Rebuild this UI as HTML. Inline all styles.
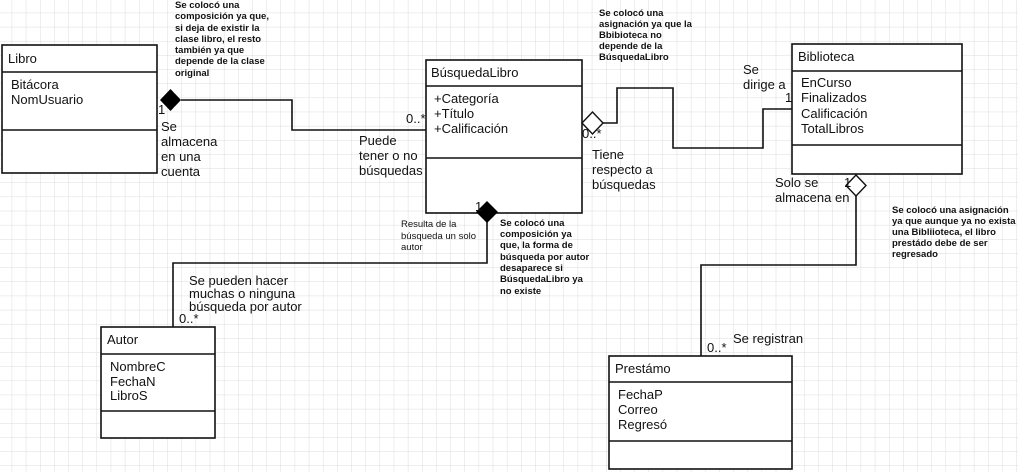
<!DOCTYPE html>
<html><head><meta charset="utf-8"><style>
html,body{margin:0;padding:0;background:#fff}
svg{display:block}
text{font-family:"Liberation Sans",Arial,sans-serif;fill:#111}
.n{font-size:13px}
.b{font-size:9.5px;font-weight:bold}
.s{font-size:9.5px}
</style></head><body>
<svg width="1018" height="472" viewBox="0 0 1018 472" xmlns="http://www.w3.org/2000/svg">
<defs><pattern id="g" width="14.15" height="14.15" patternUnits="userSpaceOnUse" x="-2" y="-1">
<path d="M14.15 0V14.15H0" fill="none" stroke="#dcdcdc" stroke-width="1"/></pattern></defs>
<rect width="1018" height="472" fill="url(#g)"/>
<g fill="#fff" stroke="#111" stroke-width="1.6">
<rect x="2" y="45" width="155" height="128"/><path d="M2 72H157M2 130H157"/>
<rect x="426" y="60" width="156" height="153"/><path d="M426 86H582M426 158H582"/>
<rect x="792" y="44" width="170" height="130"/><path d="M792 71H962M792 145H962"/>
<rect x="101" y="327" width="114" height="111"/><path d="M101 354H215M101 411H215"/>
<rect x="609" y="356" width="183" height="113"/><path d="M609 382H792M609 441H792"/>
</g>
<g fill="none" stroke="#111" stroke-width="1.6">
<path d="M181 100H292V130H426"/>
<path d="M603 123H617V88H673V148H763V109H792"/>
<path d="M487 222V263H173V327"/>
<path d="M856 196V265H701V356"/>
</g>
<path d="M160 100L170.5 89L181 100L170.5 111Z" fill="#000"/>
<path d="M582 123L592.5 112L603 123L592.5 134Z" fill="#fff" stroke="#111" stroke-width="1.4"/>
<path d="M487 201L498 212L487 223L476 212Z" fill="#000"/>
<path d="M856 175L866 185.5L856 196L846 185.5Z" fill="#fff" stroke="#111" stroke-width="1.4"/>
<text class="n" x="8" y="63">Libro</text>
<text class="n" x="11" y="89">Bitácora</text><text class="n" x="11" y="104">NomUsuario</text>
<text class="n" x="431" y="77">BúsquedaLibro</text>
<text class="n" x="434" y="103">+Categoría</text><text class="n" x="434" y="118">+Título</text><text class="n" x="434" y="133">+Calificación</text>
<text class="n" x="798" y="61">Biblioteca</text>
<text class="n" x="801" y="87">EnCurso</text><text class="n" x="801" y="102">Finalizados</text><text class="n" x="801" y="118">Calificación</text><text class="n" x="801" y="133">TotalLibros</text>
<text class="n" x="107" y="344">Autor</text>
<text class="n" x="110" y="371">NombreC</text><text class="n" x="110" y="386">FechaN</text><text class="n" x="110" y="400">LibroS</text>
<text class="n" x="615" y="373">Prestámo</text>
<text class="n" x="618" y="399">FechaP</text><text class="n" x="618" y="414">Correo</text><text class="n" x="618" y="429">Regresó</text>
<text class="n" x="158" y="114">1</text>
<text class="n" x="161" y="131">Se</text><text class="n" x="161" y="146">almacena</text><text class="n" x="161" y="161">en una</text><text class="n" x="161" y="176">cuenta</text>
<text class="n" x="406" y="123">0..*</text>
<text class="n" x="359" y="145">Puede</text><text class="n" x="359" y="160">tener o no</text><text class="n" x="359" y="175">búsquedas</text>
<text class="n" x="582" y="138">0..*</text>
<text class="n" x="592" y="159">Tiene</text><text class="n" x="592" y="174">respecto a</text><text class="n" x="592" y="189">búsquedas</text>
<text class="n" x="743" y="74">Se</text><text class="n" x="743" y="89">dirige a</text>
<text class="n" x="785" y="102">1</text>
<text class="n" x="775" y="187">Solo se</text><text class="n" x="775" y="202">almacena en</text>
<text class="n" x="844" y="187">1</text>
<text class="n" x="475" y="211">1</text>
<text class="n" x="179" y="323">0..*</text>
<text class="n" x="189" y="285">Se pueden hacer</text><text class="n" x="189" y="298">muchas o ninguna</text><text class="n" x="189" y="311">búsqueda por autor</text>
<text class="n" x="707" y="352">0..*</text>
<text class="n" x="733" y="343">Se registran</text>
<text class="s" x="401" y="227">Resulta de la</text><text class="s" x="401" y="239">búsqueda un solo</text><text class="s" x="401" y="250">autor</text>
<text class="b" x="175" y="8">Se colocó una</text><text class="b" x="175" y="19">composición ya que,</text><text class="b" x="175" y="31">si deja de existir la</text><text class="b" x="175" y="42">clase libro, el resto</text><text class="b" x="175" y="53">también ya que</text><text class="b" x="175" y="64">depende de la clase</text><text class="b" x="175" y="76">original</text>
<text class="b" x="599" y="16">Se colocó una</text><text class="b" x="599" y="27">asignación ya que la</text><text class="b" x="599" y="38">Bbibioteca no</text><text class="b" x="599" y="49">depende de la</text><text class="b" x="599" y="60">BúsquedaLibro</text>
<text class="b" x="500" y="226">Se colocó una</text><text class="b" x="500" y="237">composición ya</text><text class="b" x="500" y="248">que, la forma de</text><text class="b" x="500" y="260">búsqueda por autor</text><text class="b" x="500" y="271">desaparece si</text><text class="b" x="500" y="282">BúsquedaLibro ya</text><text class="b" x="500" y="294">no existe</text>
<text class="b" x="892" y="213">Se colocó una asignación</text><text class="b" x="892" y="224">ya que aunque ya no exista</text><text class="b" x="892" y="235">una Bibliioteca, el libro</text><text class="b" x="892" y="246">prestádo debe de ser</text><text class="b" x="892" y="257">regresado</text>
</svg>
</body></html>
